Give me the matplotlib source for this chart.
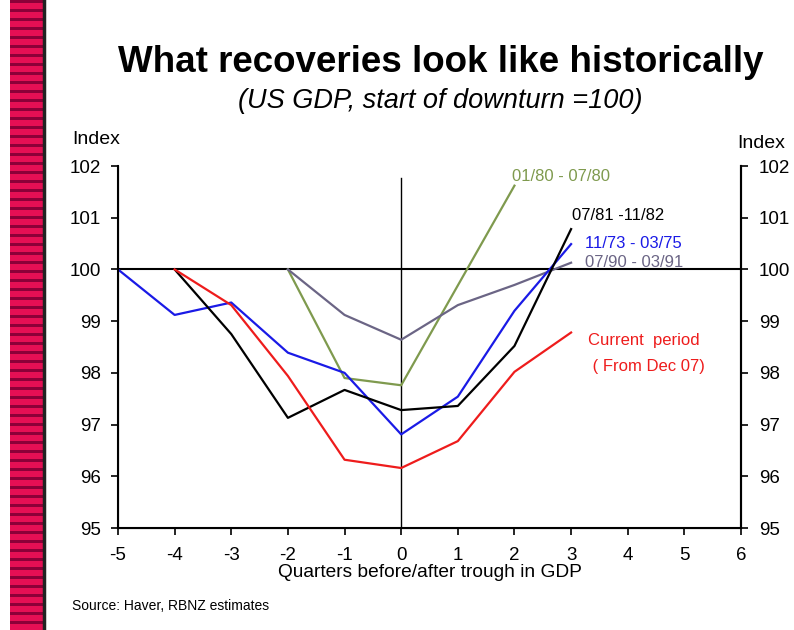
import numpy as np
import matplotlib
matplotlib.use("Agg")
import matplotlib.pyplot as plt

plt.rcParams['font.family'] = ['Liberation Sans', 'DejaVu Sans']
plt.rcParams['axes.unicode_minus'] = False

# quarters before/after trough
quarters = [-5, -4, -3, -2, -1, 0, 1, 2, 3]

# each series: x values and index values
x_7375 = [-5, -4, -3, -2, -1, 0, 1, 2, 3]
y_7375 = [100, 99.12, 99.36, 98.39, 98.0, 96.81, 97.54, 99.2, 100.49]

x_8182 = [-4, -3, -2, -1, 0, 1, 2, 3]
y_8182 = [100, 98.75, 97.13, 97.67, 97.28, 97.36, 98.52, 100.78]

x_cur = [-4, -3, -2, -1, 0, 1, 2, 3]
y_cur = [100, 99.31, 97.94, 96.32, 96.16, 96.68, 98.02, 98.78]

x_80 = [-2, -1, 0, 1, 2]
y_80 = [100, 97.9, 97.76, 99.69, 101.62]

x_9091 = [-2, -1, 0, 1, 2, 3]
y_9091 = [100, 99.12, 98.64, 99.31, 99.7, 100.13]

xticks = list(range(-5, 7))
yticks = list(range(95, 103))

green = '#7f9a4e'
purple = '#6b6585'
blue = '#1a1ae6'
red = '#ee1c1c'

fig = plt.figure(figsize=(7.94, 6.3), dpi=100)

# decorative striped strip on the left
strip = fig.add_axes([10/794, 0, 33/794, 1])
rows = np.zeros((210, 1, 3))
for i in range(210):
    rows[i, 0] = (0.55, 0.0, 0.22) if i % 3 == 0 else (0.9, 0.06, 0.33)
strip.imshow(rows, aspect='auto', interpolation='nearest')
strip.axis('off')
fig.add_artist(plt.Line2D([44/794, 44/794], [0, 1], color='#222222', lw=2.5))

ax = fig.add_axes([118/794, 1-528/630, 623/794, 362/630])
ax.set_xlim(-5, 6)
ax.set_ylim(95, 102)

ax.axhline(100, color='black', lw=1.5)
ax.plot([0, 0], [95, 101.76], color='black', lw=1)

ax.plot(x_80, y_80, color=green, lw=1.6)
ax.plot(x_9091, y_9091, color=purple, lw=1.6)
ax.plot(x_7375, y_7375, color=blue, lw=1.6)
ax.plot(x_8182, y_8182, color='black', lw=1.6)
ax.plot(x_cur, y_cur, color=red, lw=1.6)

fs = 12
ax.text(1.96, 101.8, '01/80 - 07/80', color=green, fontsize=fs, va='center')
ax.text(3.02, 101.05, '07/81 -11/82', color='black', fontsize=fs, va='center')
ax.text(3.25, 100.5, '11/73 - 03/75', color=blue, fontsize=fs, va='center')
ax.text(3.25, 100.14, '07/90 - 03/91', color=purple, fontsize=fs, va='center')
ax.text(3.3, 98.63, 'Current  period', color=red, fontsize=fs, va='center')
ax.text(3.3, 98.12, ' ( From Dec 07)', color=red, fontsize=fs, va='center')

ax.spines['top'].set_visible(False)
for s in ['left', 'right', 'bottom']:
    ax.spines[s].set_linewidth(1.5)
ax.set_xticks(xticks)
ax.set_yticks(yticks)
ax.tick_params(direction='out', length=5, width=1.2, labelsize=13.5, pad=9)
ax.tick_params(axis='y', pad=7)

ax2 = ax.twinx()
ax2.set_ylim(95, 102)
ax2.set_yticks(yticks)
ax2.spines['top'].set_visible(False)
ax2.spines['right'].set_linewidth(1.5)
ax2.tick_params(direction='out', length=5, width=1.2, labelsize=13.5, pad=8)

ax.set_xlabel('Quarters before/after trough in GDP', fontsize=13.8, labelpad=0)

fig.text(72/794, 1-140/630, 'Index', fontsize=14, va='center', ha='left')
fig.text(737/794, 1-143/630, 'Index', fontsize=14, va='center', ha='left')

fig.text(441/794, 1-63/630, 'What recoveries look like historically',
         fontsize=26.5, fontweight='bold', ha='center', va='center')
fig.text(440/794, 1-101/630, '(US GDP, start of downturn =100)',
         fontsize=19.5, style='italic', ha='center', va='center')
fig.text(72/794, 1-606/630, 'Source: Haver, RBNZ estimates', fontsize=10,
         ha='left', va='center')

fig.savefig('out.png', dpi=100)
